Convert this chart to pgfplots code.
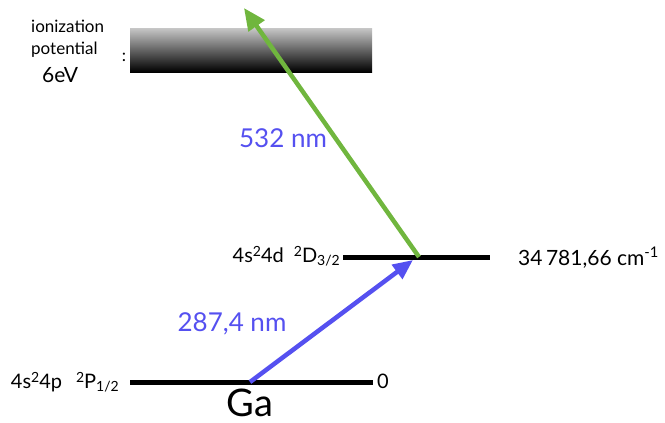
\documentclass[border=0pt]{standalone}
\usepackage{pgfplots}
\pgfplotsset{compat=1.18}
\usepackage{fontspec}
\setmainfont{Lato}
\usetikzlibrary{arrows.meta}
\definecolor{lblue}{RGB}{85,80,240}
\definecolor{lgreen}{RGB}{112,182,62}
\newcommand{\sups}[1]{\raisebox{0.5ex}{\fontsize{14}{14}\selectfont #1}}
\newcommand{\subs}[1]{\raisebox{-0.3ex}{\fontsize{14}{14}\selectfont #1}}
\begin{document}
\begin{tikzpicture}
\begin{axis}[scale only axis, width=665pt, height=423pt,
  xmin=0, xmax=665, ymin=0, ymax=423, y dir=reverse,
  axis lines=none, clip=false]
\path (axis cs:0,0) rectangle (axis cs:665,423);
% ionization band
\addplot[draw=none, top color=black!22, bottom color=black] coordinates {(130,28) (372,28) (372,72) (130,72)} -- cycle;
% levels
\addplot[black, line width=5pt] coordinates {(130,382) (373,382)};
\addplot[black, line width=5pt] coordinates {(343,257) (490,257)};
% transitions
\addplot[lblue, line width=4.5pt, -{Triangle[length=20pt,width=17pt]}] coordinates {(250,382) (413,260)};
\addplot[lgreen, line width=4.5pt, -{Triangle[length=22pt,width=19pt]}] coordinates {(419,257) (244,8)};
% labels
\node[anchor=base east, inner sep=0pt, font=\fontsize{20}{22}\selectfont] at (axis cs:119,388) {4s\sups{2}4p\hspace{14pt}\sups{2}P\subs{1/2}};
\node[anchor=base west, inner sep=0pt, font=\fontsize{20}{22}\selectfont] at (axis cs:377,388) {0};
\node[anchor=base, inner sep=0pt, font=\fontsize{38}{40}\selectfont] at (axis cs:250,416) {Ga};
\node[anchor=base east, inner sep=0pt, font=\fontsize{20}{22}\selectfont] at (axis cs:340,262) {4s\sups{2}4d\hspace{10pt}\sups{2}D\subs{3/2}};
\node[anchor=base west, inner sep=0pt, font=\fontsize{21}{23}\selectfont] at (axis cs:518,265) {34\,781,66 cm\textsuperscript{-1}};
\node[anchor=base, inner sep=0pt, text=lblue, font=\fontsize{26}{28}\selectfont] at (axis cs:232,331) {287,4 nm};
\node[anchor=base, inner sep=0pt, text=lblue, font=\fontsize{26}{28}\selectfont] at (axis cs:283,147) {532 nm};
\node[anchor=base west, inner sep=0pt, font=\fontsize{17}{19}\selectfont] at (axis cs:31,32) {ionization};
\node[anchor=base west, inner sep=0pt, font=\fontsize{17}{19}\selectfont] at (axis cs:31,54) {potential};
\node[anchor=base west, inner sep=0pt, font=\fontsize{21}{23}\selectfont] at (axis cs:42,82) {6eV};
\node[font=\fontsize{17}{19}\selectfont] at (axis cs:124,57) {:};
\end{axis}
\end{tikzpicture}
\end{document}
